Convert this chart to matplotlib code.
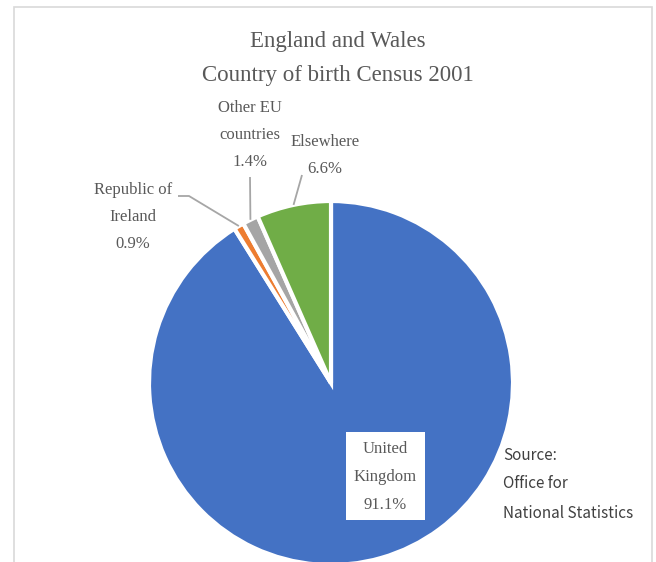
import numpy as np
import matplotlib
matplotlib.use("Agg")
import matplotlib.pyplot as plt
from matplotlib.patches import Rectangle

# Country of birth shares, England and Wales, Census 2001
categories = ["United Kingdom", "Republic of Ireland", "Other EU countries", "Elsewhere"]
shares = [91.1, 0.9, 1.4, 6.6]
colors = ["#4472C4", "#ED7D31", "#A5A5A5", "#70AD47"]
label_lines = [["United", "Kingdom"], ["Republic of", "Ireland"], ["Other EU", "countries"], ["Elsewhere"]]

W, H = 656, 562
SERIF = "Liberation Serif"
TEXT = "#595959"
LEADER = "#A6A6A6"


def py(y):
    """Pixel row (top-down) to axis y."""
    return H - y


def stack(x, y0, lines, step, **kw):
    for i, s in enumerate(lines):
        ax.text(x, py(y0 + i * step), s, ha="center", va="center", **kw)


fig = plt.figure(figsize=(W / 100, H / 100), dpi=100)
ax = fig.add_axes([0, 0, 1, 1])
ax.set_xlim(0, W)
ax.set_ylim(0, H)
ax.set_aspect("equal")
ax.axis("off")

# chart area frame (runs off the bottom edge)
ax.add_patch(Rectangle((14, py(H + 10)), 638, H + 10 - 7, fill=False,
                       edgecolor="#D9D9D9", linewidth=1.2))

cx, cy, r = 331, py(383), 182
wedges, _ = ax.pie(shares, colors=colors, startangle=90, counterclock=False,
                   center=(cx, cy), radius=r,
                   wedgeprops=dict(edgecolor="white", linewidth=3))
ax.set_xlim(0, W)
ax.set_ylim(0, H)

# title
ax.text(338, py(42), "England and Wales", ha="center", va="center",
        fontsize=16.5, family=SERIF, color=TEXT)
ax.text(338, py(75), "Country of birth Census 2001", ha="center", va="center",
        fontsize=16.5, family=SERIF, color=TEXT)

lab_kw = dict(fontsize=12, family=SERIF, color=TEXT)
pct = [f"{v:.1f}%" for v in shares]

# United Kingdom: label in a white box inside the slice
ax.add_patch(Rectangle((346, py(520)), 79, 88, facecolor="white", edgecolor="none"))
stack(385.5, 449, label_lines[0] + [pct[0]], 28, **lab_kw)

# outside labels with leader lines to the wedge rim
label_pos = {1: (133, 190), 2: (250, 108), 3: (325, 142)}
leader_start = {1: [(178, 196), (189, 196)], 2: [(250, 177)], 3: [(302, 175)]}
for i in (1, 2, 3):
    x0, y0 = label_pos[i]
    stack(x0, y0, label_lines[i] + [pct[i]], 27, **lab_kw)
    w = wedges[i]
    mid = np.deg2rad((w.theta1 + w.theta2) / 2)
    end = (cx + r * np.cos(mid), cy + r * np.sin(mid))
    pts = [(x, py(y)) for x, y in leader_start[i]] + [end]
    xs, ys = zip(*pts)
    ax.plot(xs, ys, color=LEADER, linewidth=1.3, solid_capstyle="butt")

# source note
src_kw = dict(fontsize=11, family="Noto Sans CJK JP", color="#404040", ha="left", va="center")
for k, s in enumerate(["Source:", "Office for", "National Statistics"]):
    ax.text(503, py(455 + 29 * k), s, **src_kw)

fig.savefig("out.png", dpi=100)
